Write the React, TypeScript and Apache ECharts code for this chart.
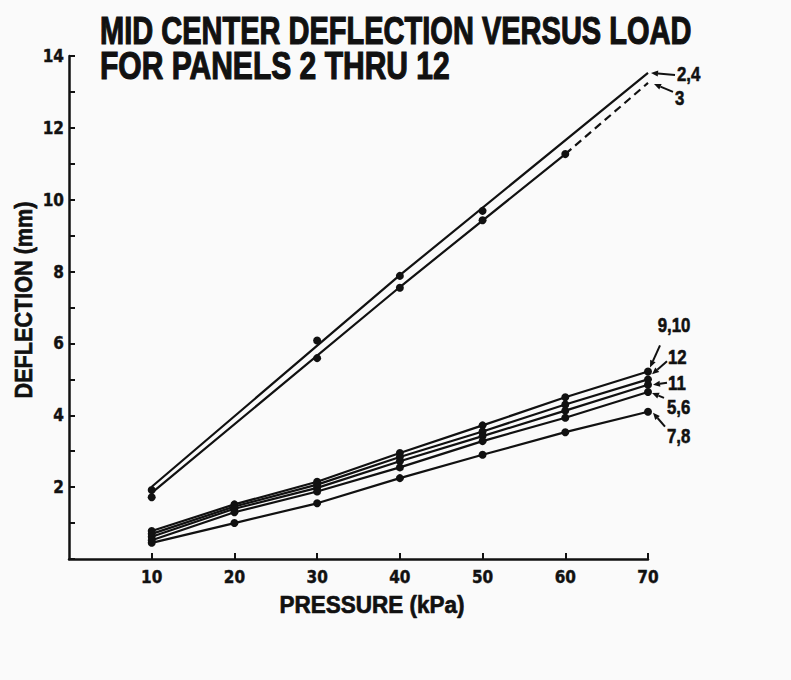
import React, { useEffect, useRef } from "react";
import * as echarts from "echarts";

// ---------- data ----------
const titleLines = ["MID CENTER DEFLECTION VERSUS LOAD", "FOR PANELS 2 THRU 12"];
const xAxisTitle = "PRESSURE (kPa)";
const yAxisTitle = "DEFLECTION (mm)";

const pressures = [10, 20, 30, 40, 50, 60, 70];

// Panels 2,4 and 3: faired lines and measured points
const panels24LineX = [10, 40, 70];
const panels24LineY = [2.01, 7.9, 13.53];
const panels24PointX = [10, 30, 40, 50];
const panels24PointY = [1.92, 6.08, 7.88, 9.69];

const panel3LineX = [10, 40, 60];
const panel3LineY = [1.84, 7.57, 11.27];
const panel3DashX = [60, 70];
const panel3DashY = [11.27, 13.25];
const panel3PointX = [10, 30, 40, 50, 60];
const panel3PointY = [1.72, 5.59, 7.55, 9.43, 11.27];

// Lower group (values at 10..70 kPa)
const panels910 = [0.78, 1.52, 2.15, 2.95, 3.72, 4.5, 5.22];
const panel12 = [0.7, 1.46, 2.07, 2.84, 3.55, 4.3, 5.0];
const panel11 = [0.62, 1.4, 1.98, 2.72, 3.42, 4.13, 4.85];
const panels56 = [0.52, 1.3, 1.88, 2.55, 3.28, 3.93, 4.65];
const panels78 = [0.45, 1.0, 1.55, 2.25, 2.9, 3.53, 4.1];

const curveLabels = ["2,4", "3", "9,10", "12", "11", "5,6", "7,8"];
const curveEndValues = [13.53, 13.25, 5.22, 5.0, 4.85, 4.65, 4.1];

// ---------- layout (not data) ----------
const W = 791;
const H = 680;
const INK = "#111111";
const BG = "#fafafa";
const FONT = "'Liberation Sans', Arial, sans-serif";
const NARROW = "'Liberation Sans Narrow', 'DejaVu Sans Condensed', 'Liberation Sans', sans-serif";

// offsets relative to each curve's end point at 70 kPa: tip, tail, text anchor
const annotLayout = [
  { tip: [3, 0], tail: [27, 2], text: [29, 1], align: "left" },
  { tip: [6, 1], tail: [25, 9], text: [27, 15], align: "left" },
  { tip: [2, -4], tail: [12, -26], text: [26, -47], align: "center" },
  { tip: [4, -5], tail: [19, -18], text: [20, -23], align: "left" },
  { tip: [5, 0], tail: [19, -2], text: [20, -2], align: "left" },
  { tip: [4, 1], tail: [16, 6], text: [19, 15], align: "left" },
  { tip: [5, 1], tail: [17, 15], text: [19, 24], align: "left" },
];

function measure(text: string, font: string): number {
  const ctx = document.createElement("canvas").getContext("2d")!;
  ctx.font = font;
  return ctx.measureText(text).width || 1;
}

function fitText(text: string, size: number, width: number) {
  return width / measure(text, `bold ${size}px ${FONT}`);
}

const zip = (xs: number[], ys: number[]) => xs.map((x, i) => [x, ys[i]]);

export default function App() {
  const ref = useRef<HTMLDivElement>(null);

  useEffect(() => {
    document.body.style.margin = "0";
    const chart = echarts.init(ref.current!, undefined, { renderer: "svg" });

    const lineStyle = { color: INK, width: 2.2 };
    const dotStyle = { color: INK, opacity: 1 };
    const lowerSeries = [panels910, panel12, panel11, panels56, panels78].map((vals, i) => ({
      name: curveLabels[i + 2],
      type: "line" as const,
      data: zip(pressures, vals),
      symbol: "circle",
      symbolSize: 8,
      itemStyle: dotStyle,
      lineStyle,
      z: 3,
    }));

    const tickLabel = {
      showMinLabel: false,
      color: INK,
      fontSize: 17,
      fontWeight: "bold",
      fontFamily: NARROW,
      textBorderColor: INK,
      textBorderWidth: 0.4,
    };

    chart.setOption({
      animation: false,
      backgroundColor: BG,
      grid: { left: 69, right: 143, top: 56, bottom: 121 },
      xAxis: {
        type: "value",
        min: 0,
        max: 70,
        interval: 10,
        axisLine: { lineStyle: { color: INK, width: 2.5 } },
        axisTick: { inside: true, length: 6, lineStyle: { color: INK, width: 2 } },
        axisLabel: { ...tickLabel, margin: 9 },
        splitLine: { show: false },
      },
      yAxis: {
        type: "value",
        min: 0,
        max: 14,
        interval: 2,
        axisLine: { show: true, lineStyle: { color: INK, width: 2.5 } },
        axisTick: { show: true, inside: true, length: 6, lineStyle: { color: INK, width: 2 } },
        minorTick: { show: true, splitNumber: 2, length: 6, lineStyle: { color: INK, width: 2 } },
        axisLabel: { ...tickLabel, margin: 5 },
        splitLine: { show: false },
      },
      series: [
        {
          name: "2,4",
          type: "line",
          data: zip(panels24LineX, panels24LineY),
          showSymbol: false,
          lineStyle,
        },
        {
          name: "3",
          type: "line",
          data: zip(panel3LineX, panel3LineY),
          showSymbol: false,
          lineStyle,
        },
        {
          name: "3 (extended)",
          type: "line",
          data: zip(panel3DashX, panel3DashY),
          showSymbol: false,
          lineStyle: { color: INK, width: 2.2, type: [8, 5] },
        },
        {
          name: "2,4 points",
          type: "scatter",
          data: zip(panels24PointX, panels24PointY),
          symbolSize: 8,
          itemStyle: dotStyle,
          z: 4,
        },
        {
          name: "3 points",
          type: "scatter",
          data: zip(panel3PointX, panel3PointY),
          symbolSize: 8,
          itemStyle: dotStyle,
          z: 4,
        },
        ...lowerSeries,
      ],
    });

    // annotations anchored on the curves' end points through the chart's own scales
    const annot: any[] = [];
    curveLabels.forEach((label, i) => {
      const p = chart.convertToPixel({ gridIndex: 0 }, [70, curveEndValues[i]]) as number[];
      const L = annotLayout[i];
      const tip = [p[0] + L.tip[0], p[1] + L.tip[1]];
      const tail = [p[0] + L.tail[0], p[1] + L.tail[1]];
      const dx = tip[0] - tail[0];
      const dy = tip[1] - tail[1];
      const len = Math.hypot(dx, dy) || 1;
      const ux = dx / len;
      const uy = dy / len;
      const hl = 7;
      const hw = 3;
      const base = [tip[0] - ux * hl, tip[1] - uy * hl];
      annot.push({
        type: "line",
        shape: { x1: tail[0], y1: tail[1], x2: base[0], y2: base[1] },
        style: { stroke: INK, lineWidth: 2 },
      });
      annot.push({
        type: "polygon",
        shape: {
          points: [
            tip,
            [base[0] - uy * hw, base[1] + ux * hw],
            [base[0] + uy * hw, base[1] - ux * hw],
          ],
        },
        style: { fill: INK },
      });
      annot.push({
        type: "text",
        x: p[0] + L.text[0],
        y: p[1] + L.text[1],
        scaleX: 0.8,
        style: {
          text: label,
          fontSize: 21,
          fontWeight: "bold",
          fontFamily: FONT,
          fill: INK,
          stroke: INK,
          lineWidth: 0.6,
          align: L.align,
          textAlign: L.align,
          verticalAlign: "middle",
          textVerticalAlign: "middle",
        },
      });
    });

    const titleSize = 39;
    const titles = [
      { text: titleLines[0], x: 100, y: 30, w: 592 },
      { text: titleLines[1], x: 100, y: 65, w: 350 },
    ].map((t) => ({
      type: "text",
      x: t.x,
      y: t.y,
      scaleX: fitText(t.text, titleSize, t.w),
      style: {
        text: t.text,
        fontSize: titleSize,
        fontWeight: "bold",
        fontFamily: FONT,
        fill: INK,
        stroke: INK,
        lineWidth: 1.2,
        align: "left",
        textAlign: "left",
        verticalAlign: "middle",
        textVerticalAlign: "middle",
      },
    }));

    const axisTitleSize = 24;
    const axisTitleStyle = {
      fontSize: axisTitleSize,
      fontWeight: "bold",
      fontFamily: FONT,
      fill: INK,
      stroke: INK,
      lineWidth: 0.7,
      align: "center",
      textAlign: "center",
      verticalAlign: "middle",
      textVerticalAlign: "middle",
    };
    const axisTitles = [
      {
        type: "text",
        x: 372,
        y: 605,
        scaleX: fitText(xAxisTitle, axisTitleSize, 185),
        style: { text: xAxisTitle, ...axisTitleStyle },
      },
      {
        type: "text",
        x: 24,
        y: 300,
        rotation: Math.PI / 2,
        scaleX: fitText(yAxisTitle, axisTitleSize, 197),
        style: { text: yAxisTitle, ...axisTitleStyle },
      },
    ];

    chart.setOption({ graphic: [...titles, ...axisTitles, ...annot] });

    return () => chart.dispose();
  }, []);

  return <div ref={ref} style={{ width: W, height: H }} />;
}
